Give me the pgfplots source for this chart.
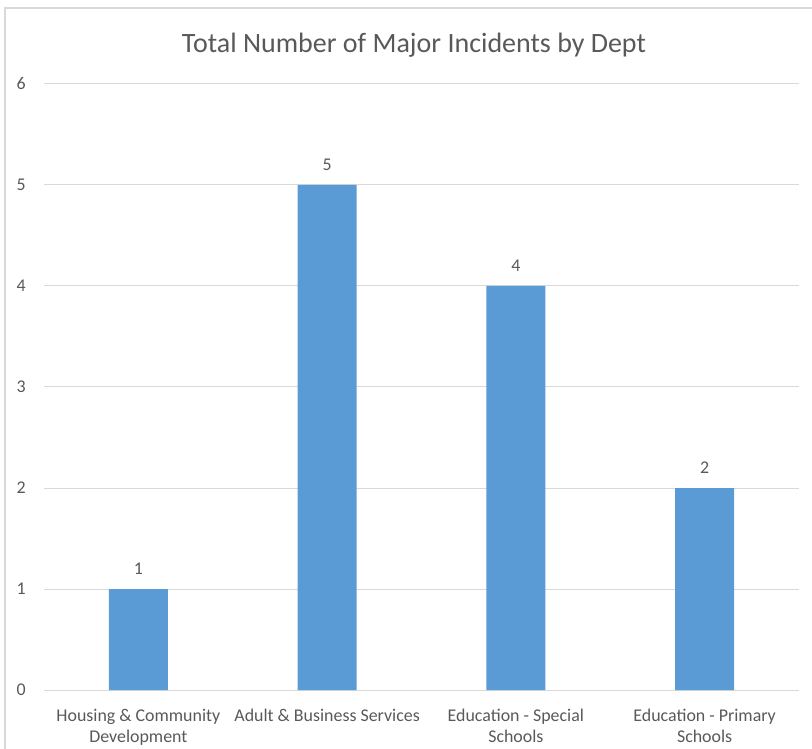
\documentclass[border=0pt]{standalone}
\usepackage{fontspec}
\setmainfont{Carlito}
\usepackage{pgfplots}
\pgfplotsset{compat=1.18}
\definecolor{barblue}{HTML}{5B9BD5}
\definecolor{gridgray}{HTML}{D9D9D9}
\definecolor{txtgray}{HTML}{595959}
\begin{document}
\begin{tikzpicture}
\path[use as bounding box] (-44bp,-59bp) rectangle (768bp,690bp);
\draw[gridgray, line width=1.5bp] (-39bp,-59bp) -- (-39bp,682bp) -- (768bp,682bp);
\node[txtgray, font=\fontsize{28bp}{33bp}\selectfont] at (370bp,645bp) {Total Number of Major Incidents by Dept};
\begin{axis}[
  at={(0,0)}, anchor=south west,
  scale only axis, width=755bp, height=606bp,
  ymin=0, ymax=6, xmin=-0.5, xmax=3.5,
  ybar, bar width=59bp,
  axis line style={draw=none},
  ymajorgrids, grid style={gridgray, line width=1bp},
  ytick={0,1,2,3,4,5,6},
  xtick={0,1,2,3},
  xticklabels={{Housing \& Community\\Development},{Adult \& Business Services},{Education - Special\\Schools},{Education - Primary\\Schools}},
  major tick length=0pt,
  tick style={draw=none},
  /pgf/number format/assume math mode=true,
  ticklabel style={font=\fontsize{17.9bp}{21bp}\selectfont, text=txtgray, inner sep=0pt},
  yticklabel style={anchor=east, xshift=-18bp},
  xticklabel style={anchor=north, align=center, yshift=-19bp},
  nodes near coords,
  every node near coord/.append style={font=\fontsize{17.9bp}{21.5bp}\selectfont, text=txtgray, inner sep=0pt, anchor=south, yshift=14bp},
  clip=false,
]
\addplot[fill=barblue, draw=none] coordinates {(0,1) (1,5) (2,4) (3,2)};
\end{axis}
\end{tikzpicture}
\end{document}
